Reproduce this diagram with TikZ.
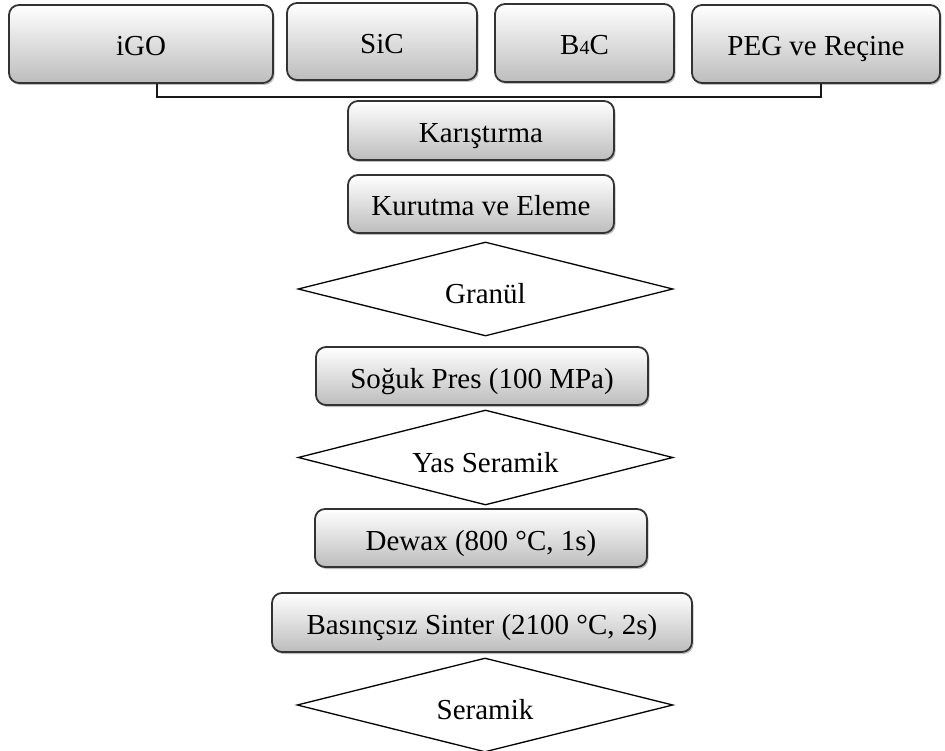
\documentclass[tikz,border=0pt]{standalone}
\usepackage{fontspec}
\setmainfont{Liberation Serif}
\usetikzlibrary{shapes.geometric,shadows,calc}
\begin{document}
\begin{tikzpicture}[x=1pt,y=-1pt,
  procbox/.style={draw=black!80, line width=1.8pt, rounded corners=10pt,
    top color=white, bottom color=black!26, inner sep=0pt,
    text height=24pt, text depth=0pt,
    drop shadow={shadow xshift=1.5pt, shadow yshift=-2pt, opacity=0.25, fill=black},
    font=\fontsize{29}{34}\selectfont},
  decision/.style={diamond, draw=black, line width=1.3pt, fill=white, aspect=4,
    inner sep=0pt, text height=29pt, text depth=0pt, font=\fontsize{29}{34}\selectfont},
  bracketline/.style={draw=black!90, line width=2pt}]
\useasboundingbox (0,0) rectangle (945,751);
\fill[white] (0,0) rectangle (945,751);
\node[procbox, minimum width=264pt, minimum height=78pt] (igo) at (141,44) {iGO};
\node[procbox, minimum width=190pt, minimum height=77pt] (sic) at (382,41.5) {SiC};
\node[procbox, minimum width=179pt, minimum height=78pt] (b4c) at (584.5,43) {B{\fontsize{20}{20}\selectfont 4}C};
\node[procbox, minimum width=248pt, minimum height=78pt] (peg) at (816,44) {PEG ve Reçine};
\coordinate (bl) at ($(igo.south)+(16,0)$);
\coordinate (br) at ($(peg.south)+(5,0)$);
\draw[bracketline] (bl) -- ++(0,13) -| (br);
\node[procbox, minimum width=266pt, minimum height=59pt] (kar) at (481,130.5) {Karıştırma};
\node[procbox, minimum width=266pt, minimum height=58pt] (kur) at (481,204) {Kurutma ve Eleme};
\node[decision, minimum width=375pt, minimum height=94pt] (gra) at (485.5,289) {Granül};
\node[procbox, minimum width=332pt, minimum height=58pt] (sog) at (482,376) {Soğuk Pres (100 MPa)};
\node[decision, minimum width=375pt, minimum height=95pt] (yas) at (485.5,457.5) {Yas Seramik};
\node[procbox, minimum width=332pt, minimum height=58pt] (dew) at (481,538) {Dewax (800 °C, 1s)};
\node[procbox, minimum width=420pt, minimum height=59pt] (sin) at (482,622.5) {Basınçsız Sinter (2100 °C, 2s)};
\node[decision, minimum width=376pt, minimum height=94pt] (ser) at (485,705) {Seramik};
\end{tikzpicture}
\end{document}
